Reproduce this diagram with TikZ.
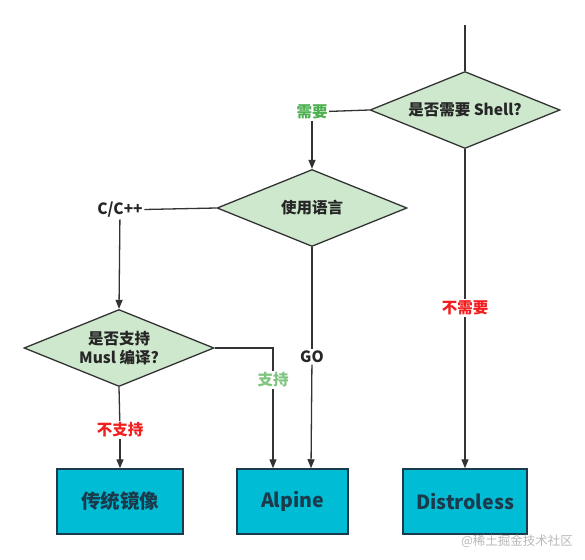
\documentclass[tikz,border=0pt]{standalone}
\usepackage{fontspec}
\setmainfont{Noto Sans CJK SC}
\usetikzlibrary{arrows.meta,shapes.geometric}
\definecolor{mint}{HTML}{CDE8CD}
\definecolor{teal}{HTML}{00BCD4}
\definecolor{slate}{HTML}{333333}
\definecolor{navy}{HTML}{1B3A4B}
\definecolor{leaf}{HTML}{4CAF50}
\definecolor{sprout}{HTML}{7DC47F}
\definecolor{brick}{HTML}{F01E1E}
\tikzset{
  >={Triangle[length=9pt,width=7pt]},
  ask/.style={diamond,draw=slate,fill=mint,line width=1.3pt,minimum width=190pt,
    minimum height=77pt,aspect=2.47,inner sep=0pt,align=center,
    font=\fontsize{15.5}{19}\selectfont\bfseries,text=black!85},
  result/.style={rectangle,draw=navy,fill=teal,line width=1.5pt,minimum height=65pt,
    font=\fontsize{19.5}{22}\selectfont\bfseries,text=navy},
  flow/.style={->,line width=1.3pt,draw=slate},
  link/.style={line width=1.3pt,draw=slate},
  tag/.style={inner sep=1.5pt,font=\fontsize{15.5}{17}\selectfont\bfseries,text=#1},
  tag/.default=black!85,
}
\begin{document}
\begin{tikzpicture}[x=1pt,y=-1pt]
  \useasboundingbox (0,0) rectangle (585,559);
  % questions
  \coordinate (start) at (465,25);
  \node[ask] (shell) at (465,110) {是否需要 Shell?};
  \node[ask] (lang) at (312,208) {使用语言};
  \node[ask] (musl) at (119,348) {是否支持\\Musl 编译?};
  % images
  \node[result,minimum width=126pt] (legacy) at (120,501.5) {传统镜像};
  \node[result,minimum width=111pt] (alpine) at (292.5,501.5) {Alpine};
  \node[result,minimum width=124pt] (distroless) at (465,501.5) {Distroless};
  % answers
  \node[tag=leaf] (need) at (312,112) {需要};
  \node[tag] (cpp) at (120,210) {C/C++};
  \node[tag=sprout] (muslyes) at (273,380) {支持};
  \node[tag=brick] (muslno) at (120,430) {不支持};
  \node[tag] (go) at (312,357) {GO};
  \node[tag=brick] (noshell) at (465,308) {不需要};
  % connectors
  \draw[link] (start) -- (shell.north);
  \draw[link] (shell.west) -- (need);
  \draw[flow] (need) -- (lang.north);
  \draw[link] (lang.west) -- (cpp);
  \draw[flow] (cpp) -- (musl.north);
  \draw[link] (musl.east) -| (muslyes.north);
  \draw[flow] (muslyes) -- ([xshift=-19.5pt]alpine.north);
  \draw[link] (musl.south) -- (muslno);
  \draw[flow] (muslno) -- (legacy.north);
  \draw[link] (lang.south) -- (go);
  \draw[flow] (go) -- ([xshift=18.5pt]alpine.north);
  \draw[link] (shell.south) -- (noshell);
  \draw[flow] (noshell) -- (distroless.north);
  \node[font=\fontsize{12.5}{14}\selectfont,text=black!28] (mark) at (517,541) {@稀土掘金技术社区};
\end{tikzpicture}
\end{document}
